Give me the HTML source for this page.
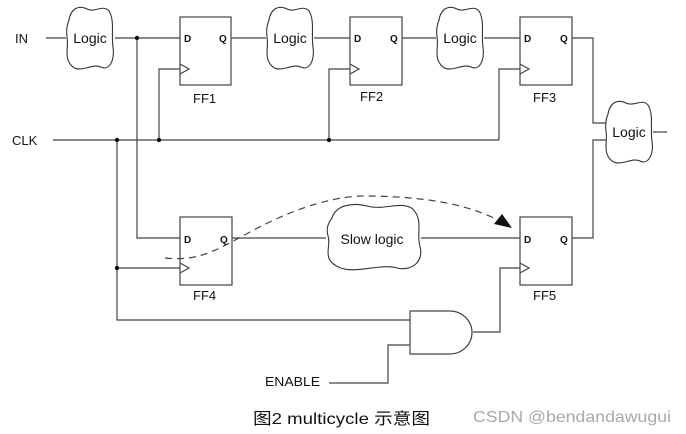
<!DOCTYPE html>
<html><head><meta charset="utf-8"><style>
html,body{margin:0;padding:0;background:#fff;width:686px;height:434px;overflow:hidden}
svg{display:block}
text{font-family:"Liberation Sans",Arial,sans-serif;fill:#111}
</style></head><body>
<svg width="686" height="434" viewBox="0 0 686 434" xmlns="http://www.w3.org/2000/svg">
<defs>
<path id="cl" d="M4,15 C6,3 14,0 22,4 C30,8 38,-1 44,6 C50,16 46,30 48,42 C50,56 44,66 36,62 C28,58 16,68 8,62 C-2,54 4,42 2,32 C1,25 2,20 4,15 Z" fill="#fff" stroke="#333" stroke-width="1.1" vector-effect="non-scaling-stroke"/>
</defs>
<g stroke="#444" stroke-width="1.2" fill="none">
<line x1="46" y1="38" x2="66" y2="38"/>
<line x1="115" y1="38" x2="180" y2="38"/>
<line x1="231" y1="38" x2="266" y2="38"/>
<line x1="314" y1="38" x2="350" y2="38"/>
<line x1="402" y1="38" x2="436" y2="38"/>
<line x1="484" y1="38" x2="520" y2="38"/>
<polyline points="572,38 593,38 593,123 606,123"/>
<polyline points="572,238 593,238 593,140 606,140"/>
<line x1="653" y1="132" x2="667" y2="132"/>
<line x1="53" y1="140" x2="499" y2="140"/>
<polyline points="159,140 159,69 180,69"/>
<polyline points="329,140 329,69 350,69"/>
<polyline points="499,140 499,69 520,69"/>
<polyline points="137,38 137,238 180,238"/>
<polyline points="117,140 117,320 411,320"/>
<line x1="117" y1="268" x2="180" y2="268"/>
<line x1="232" y1="238" x2="326" y2="238"/>
<line x1="421" y1="238" x2="520" y2="238"/>
<polyline points="473,332 500,332 500,268 520,268"/>
<polyline points="411,345 388,345 388,383 329,383"/>
<rect x="180" y="17" width="51" height="68"/>
<rect x="350" y="17" width="52" height="68"/>
<rect x="520" y="17" width="52" height="68"/>
<rect x="180" y="217" width="52" height="68"/>
<rect x="520" y="217" width="52" height="68"/>
<polyline points="180,64 189,69 180,74"/>
<polyline points="350,64 359,69 350,74"/>
<polyline points="520,64 529,69 520,74"/>
<polyline points="180,263 189,268 180,273"/>
<polyline points="520,263 529,268 520,273"/>
<path d="M410,311 L450,311 A22,21.5 0 0 1 450,354 L410,354 Z" fill="#fff"/>
<path d="M165,258 C200,262 220,248 250,232 C300,205 340,195 370,196 C430,197 470,205 502,222" stroke-dasharray="7,5"/>
</g>
<polygon points="512,228 494,224 502,214" fill="#111"/>
<g fill="#111">
<circle cx="137" cy="38" r="2.2"/>
<circle cx="117" cy="140" r="2.2"/>
<circle cx="159" cy="140" r="2.2"/>
<circle cx="329" cy="140" r="2.2"/>
<circle cx="117" cy="268" r="2.2"/>
</g>
<use href="#cl" transform="translate(65,5)"/>
<use href="#cl" transform="translate(265,5)"/>
<use href="#cl" transform="translate(435,5)"/>
<use href="#cl" transform="translate(604,99)"/>
<use href="#cl" transform="translate(324,202) scale(2,1.06)"/>
<g font-size="14" text-anchor="middle">
<text x="90" y="43">Logic</text>
<text x="290" y="43">Logic</text>
<text x="460" y="43">Logic</text>
<text x="629" y="137">Logic</text>
<text x="372" y="244">Slow logic</text>
</g>
<g font-size="13">
<text x="15" y="43">IN</text>
<text x="12" y="145">CLK</text>
<text x="265" y="386" font-size="13" textLength="55" lengthAdjust="spacingAndGlyphs">ENABLE</text>
<text x="193" y="103" font-size="13">FF1</text>
<text x="360" y="101" font-size="13">FF2</text>
<text x="533" y="102" font-size="13">FF3</text>
<text x="193" y="300" font-size="13">FF4</text>
<text x="533" y="300" font-size="13">FF5</text>
</g>
<g font-size="10" font-weight="bold">
<text x="184" y="42">D</text><text x="219" y="42">Q</text>
<text x="354" y="42">D</text><text x="390" y="42">Q</text>
<text x="524" y="42">D</text><text x="560" y="42">Q</text>
<text x="184" y="243">D</text><text x="220" y="243">Q</text>
<text x="524" y="243">D</text><text x="560" y="243">Q</text>
</g>
<text x="253" y="424" font-size="16" textLength="177" lengthAdjust="spacingAndGlyphs" style="font-family:'Liberation Sans','Noto Sans CJK SC',sans-serif" fill="#222">图2 multicycle 示意图</text>
<text x="473" y="422" font-size="16" textLength="198" lengthAdjust="spacingAndGlyphs" style="fill:#a8a8a8">CSDN @bendandawugui</text>
</svg>
</body></html>
